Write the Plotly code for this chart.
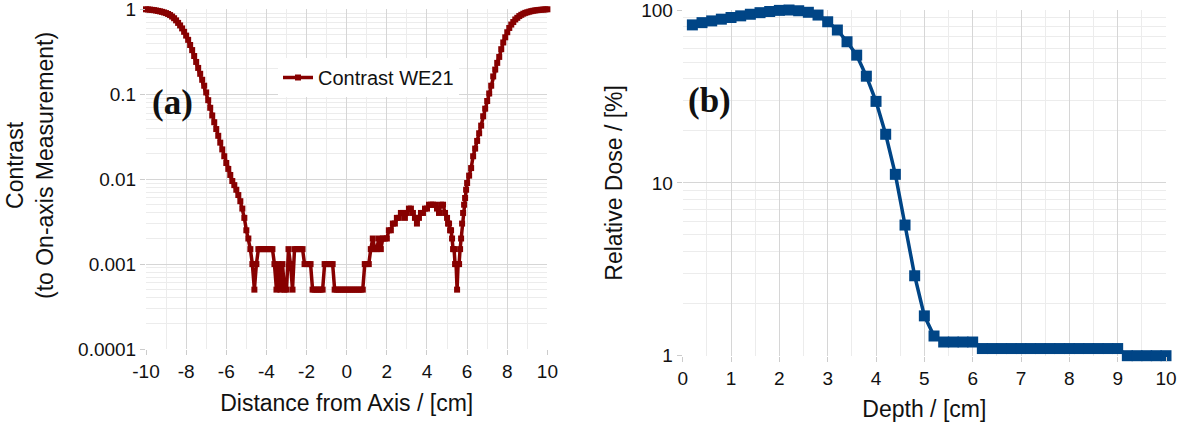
import plotly.graph_objects as go

# ---------------- data: panel (a) ----------------
distance_cm = [
    -10.0, -9.9, -9.8, -9.7, -9.6, -9.5, -9.4, -9.3, -9.2, -9.1,
    -9.0, -8.9, -8.8, -8.7, -8.6, -8.5, -8.4, -8.3, -8.2, -8.1,
    -8.0, -7.9, -7.8, -7.7, -7.6, -7.5, -7.4, -7.3, -7.2, -7.1,
    -7.0, -6.9, -6.8, -6.7, -6.6, -6.5, -6.4, -6.3, -6.2, -6.1,
    -6.0, -5.9, -5.8, -5.7, -5.6, -5.5, -5.4, -5.3, -5.2, -5.1,
    -5.0, -4.9, -4.8, -4.7, -4.6, -4.5, -4.4, -4.3, -4.2, -4.1,
    -4.0, -3.9, -3.8, -3.7, -3.6, -3.5, -3.4, -3.3, -3.2, -3.1,
    -3.0, -2.9, -2.8, -2.7, -2.6, -2.5, -2.4, -2.3, -2.2, -2.1,
    -2.0, -1.9, -1.8, -1.7, -1.6, -1.5, -1.4, -1.3, -1.2, -1.1,
    -1.0, -0.9, -0.8, -0.7, -0.6, -0.5, -0.4, -0.3, -0.2, -0.1,
    0.0, 0.1, 0.2, 0.3, 0.4, 0.5, 0.6, 0.7, 0.8, 0.9,
    1.0, 1.1, 1.2, 1.3, 1.4, 1.5, 1.6, 1.7, 1.8, 1.9,
    2.0, 2.1, 2.2, 2.3, 2.4, 2.5, 2.6, 2.7, 2.8, 2.9,
    3.0, 3.1, 3.2, 3.3, 3.4, 3.5, 3.6, 3.7, 3.8, 3.9,
    4.0, 4.1, 4.2, 4.3, 4.4, 4.5, 4.6, 4.7, 4.8, 4.9,
    5.0, 5.05, 5.1, 5.15, 5.2, 5.25, 5.3, 5.35, 5.4, 5.45,
    5.5, 5.55, 5.6, 5.65, 5.7, 5.75, 5.8, 5.85, 5.9, 5.95,
    6.0, 6.1, 6.2, 6.3, 6.4, 6.5, 6.6, 6.7, 6.8, 6.9,
    7.0, 7.1, 7.2, 7.3, 7.4, 7.5, 7.6, 7.7, 7.8, 7.9,
    8.0, 8.1, 8.2, 8.3, 8.4, 8.5, 8.6, 8.7, 8.8, 8.9,
    9.0, 9.1, 9.2, 9.3, 9.4, 9.5, 9.6, 9.7, 9.8, 9.9,
    10.0,
]
contrast = [
    1.0, 0.995, 0.991, 0.984, 0.977, 0.968, 0.957, 0.946, 0.933, 0.918,
    0.902, 0.881, 0.855, 0.822, 0.785, 0.741, 0.692, 0.646, 0.596, 0.543,
    0.490, 0.437, 0.380, 0.331, 0.282, 0.240, 0.204, 0.174, 0.148, 0.126,
    0.105, 0.0851, 0.0692, 0.0562, 0.0468, 0.0389, 0.0324, 0.0269, 0.0224, 0.0186,
    0.0155, 0.0132, 0.0112, 0.0095, 0.0085, 0.0075, 0.0065, 0.0055, 0.0045, 0.0035,
    0.0025, 0.002, 0.0015, 0.001, 0.0005, 0.001, 0.0015, 0.0015, 0.0015, 0.0015,
    0.0015, 0.0015, 0.0015, 0.0015, 0.001, 0.0005, 0.001, 0.0005, 0.001, 0.0005,
    0.0005, 0.0015, 0.001, 0.0005, 0.0015, 0.0015, 0.0015, 0.0015, 0.0015, 0.001,
    0.001, 0.001, 0.001, 0.0005, 0.0005, 0.0005, 0.0005, 0.0005, 0.0005, 0.001,
    0.001, 0.001, 0.001, 0.001, 0.0005, 0.0005, 0.0005, 0.0005, 0.0005, 0.0005,
    0.0005, 0.0005, 0.0005, 0.0005, 0.0005, 0.0005, 0.0005, 0.0005, 0.0005, 0.001,
    0.001, 0.001, 0.0015, 0.002, 0.0015, 0.0015, 0.002, 0.0015, 0.002, 0.002,
    0.002, 0.0025, 0.0025, 0.003, 0.003, 0.0035, 0.0035, 0.004, 0.004, 0.0035,
    0.004, 0.0045, 0.0045, 0.004, 0.0035, 0.003, 0.0035, 0.004, 0.004, 0.0045,
    0.0045, 0.005, 0.005, 0.005, 0.005, 0.0045, 0.004, 0.005, 0.005, 0.004,
    0.0035, 0.003, 0.003, 0.0025, 0.0025, 0.002, 0.0015, 0.0015, 0.001, 0.001,
    0.0005, 0.001, 0.001, 0.0015, 0.002, 0.003, 0.004, 0.005, 0.006, 0.0075,
    0.009, 0.011, 0.0135, 0.0186, 0.0229, 0.0282, 0.0347, 0.0427, 0.055, 0.0676,
    0.0832, 0.102, 0.126, 0.162, 0.195, 0.234, 0.275, 0.339, 0.407, 0.468,
    0.537, 0.603, 0.661, 0.708, 0.759, 0.794, 0.832, 0.861, 0.887, 0.908,
    0.923, 0.938, 0.951, 0.962, 0.971, 0.977, 0.984, 0.989, 0.993, 0.998,
    1.0,
]
series_a_name = "Contrast WE21"

# ---------------- data: panel (b) ----------------
depth_cm = [
    0.2, 0.4, 0.6, 0.8, 1.0, 1.2, 1.4, 1.6, 1.8, 2.0,
    2.2, 2.4, 2.6, 2.8, 3.0, 3.2, 3.4, 3.6, 3.8, 4.0,
    4.2, 4.4, 4.6, 4.8, 5.0, 5.2, 5.4, 5.6, 5.8, 6.0,
    6.2, 6.4, 6.6, 6.8, 7.0, 7.2, 7.4, 7.6, 7.8, 8.0,
    8.2, 8.4, 8.6, 8.8, 9.0, 9.2, 9.4, 9.6, 9.8, 10.0,
]
relative_dose = [
    82.0, 84.5, 86.5, 88.5, 90.5, 92.5, 94.5, 96.5, 98.0, 99.5,
    100.0, 99.0, 97.0, 93.5, 85.5, 76.6, 65.5, 54.8, 41.4, 29.6,
    19.1, 11.2, 5.7, 2.9, 1.7, 1.3, 1.2, 1.2, 1.2, 1.2,
    1.1, 1.1, 1.1, 1.1, 1.1, 1.1, 1.1, 1.1, 1.1, 1.1,
    1.1, 1.1, 1.1, 1.1, 1.1, 1.0, 1.0, 1.0, 1.0, 1.0,
]

# tick labels
a_xticks = [-10, -8, -6, -4, -2, 0, 2, 4, 6, 8, 10]
a_xtext = ["-10", "-8", "-6", "-4", "-2", "0", "2", "4", "6", "8", "10"]
a_yticks = [0.0001, 0.001, 0.01, 0.1, 1]
a_ytext = ["0.0001", "0.001", "0.01", "0.1", "1"]
b_xticks = [0, 1, 2, 3, 4, 5, 6, 7, 8, 9, 10]
b_yticks = [1, 10, 100]
b_ytext = ["1", "10", "100"]

# ---------------- styling ----------------
W, H = 1192, 432
RED = "#870000"
BLUE = "#004586"
GRID = "#d6d6d6"
MINOR = "#ececec"
FONT = "Liberation Sans, Arial, sans-serif"
TICKFONT = dict(family=FONT, size=19, color="#111111")
TITLEFONT = dict(family=FONT, size=23, color="#111111")
SERIF = "Liberation Serif, DejaVu Serif, serif"
EPS = 1e-6


def log_minor(lo_exp, hi_exp):
    vals = []
    for e in range(lo_exp, hi_exp):
        for d in range(2, 10):
            vals.append(d * 10 ** e)
    return vals


fig = go.Figure()
fig.add_trace(go.Scatter(
    x=distance_cm, y=contrast, name=series_a_name,
    mode="lines+markers",
    line=dict(color=RED, width=3.5),
    marker=dict(symbol="square", size=6, color=RED),
    cliponaxis=False, xaxis="x", yaxis="y", showlegend=True,
))
fig.add_trace(go.Scatter(
    x=depth_cm, y=relative_dose, name="Relative Dose",
    mode="lines+markers",
    line=dict(color=BLUE, width=3.5),
    marker=dict(symbol="square", size=11, color=BLUE),
    cliponaxis=False, xaxis="x2", yaxis="y2", showlegend=False,
))

common = dict(showline=False, zeroline=False, ticks="outside", ticklen=5,
              tickcolor="#cccccc", gridcolor=GRID, gridwidth=1,
              tickfont=TICKFONT, title_font=TITLEFONT, automargin=False,
              ticklabeloverflow="allow")

fig.update_layout(
    width=W, height=H,
    margin=dict(l=0, r=0, t=0, b=0, autoexpand=False),
    paper_bgcolor="white", plot_bgcolor="white",
    font=dict(family=FONT, color="#111111"),
    xaxis=dict(
        **common,
        domain=[146 / W, 547.4 / W], anchor="y",
        range=[-10 - EPS, 10 + EPS], tickmode="array", tickvals=a_xticks,
        ticktext=a_xtext,
        minor=dict(dtick=1, showgrid=True, gridcolor=MINOR, ticks=""),
        title=dict(text="Distance from Axis / [cm]", standoff=14),
    ),
    yaxis=dict(
        **common,
        type="log", domain=[1 - 349 / H, 1 - 9.3 / H], anchor="x",
        range=[-4 - EPS, 0 + EPS], tickmode="array", tickvals=a_yticks,
        ticktext=a_ytext,
        minor=dict(tickmode="array", tickvals=log_minor(-4, 0), showgrid=True,
                   gridcolor=MINOR, ticks=""),
    ),
    xaxis2=dict(
        **common,
        domain=[682.7 / W, 1166 / W], anchor="y2",
        range=[0 - EPS, 10 + EPS], tickmode="array", tickvals=b_xticks,
        minor=dict(dtick=0.5, showgrid=True, gridcolor=MINOR, ticks=""),
        title=dict(text="Depth / [cm]", standoff=13),
    ),
    yaxis2=dict(
        **common,
        type="log", domain=[1 - 355.7 / H, 1 - 10 / H], anchor="x2",
        range=[0 - EPS, 2 + EPS], tickmode="array", tickvals=b_yticks,
        ticktext=b_ytext,
        minor=dict(tickmode="array", tickvals=log_minor(0, 2), showgrid=True,
                   gridcolor=MINOR, ticks=""),
        title=dict(text="Relative Dose / [%]", standoff=12),
    ),
    legend=dict(
        x=278 / W, y=1 - 58 / H, xanchor="left", yanchor="top",
        bgcolor="white", borderwidth=0,
        font=dict(family=FONT, size=20, color="#111111"),
    ),
    annotations=[
        dict(text="Contrast<br>(to On-axis Measurement)", textangle=-90,
             x=30 / W, y=1 - 166 / H, xref="paper", yref="paper",
             showarrow=False, xanchor="center", yanchor="middle",
             font=TITLEFONT),
        dict(text="<b>(a)</b>", x=172 / W, y=1 - 102 / H, xref="paper",
             yref="paper", showarrow=False, xanchor="center", yanchor="middle",
             font=dict(family=SERIF, size=35, color="#111111")),
        dict(text="<b>(b)</b>", x=709 / W, y=1 - 100 / H, xref="paper",
             yref="paper", showarrow=False, xanchor="center", yanchor="middle",
             font=dict(family=SERIF, size=35, color="#111111")),
    ],
)

fig.write_html(
    "out.html",
    config={"displayModeBar": False},
    post_script="document.body.style.margin='0';document.body.style.overflow='hidden';",
)
